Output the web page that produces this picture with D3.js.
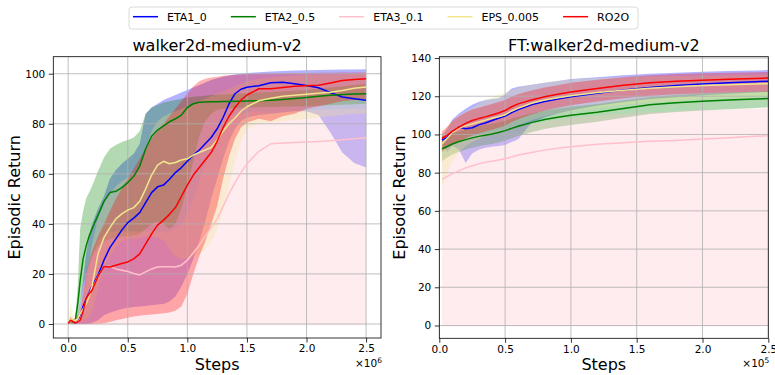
<!DOCTYPE html>
<html><head><meta charset="utf-8">
<script src="https://cdn.jsdelivr.net/npm/d3@7"></script>
<style>body{margin:0;background:#fff} text{font-family:"DejaVu Sans",sans-serif}</style>
</head><body><svg id="c" width="775" height="375"></svg>
<script>
// ---------- legend / series ----------
const seriesNames = ["ETA1_0", "ETA2_0.5", "ETA3_0.1", "EPS_0.005", "RO2O"];
const seriesColors = ["#0000ff", "#008000", "#ffc0cb", "#f0e68c", "#ff0000"];

// ---------- left panel: walker2d-medium-v2 (steps x1e6) ----------
const stepsL = [0, 0.02, 0.04, 0.06, 0.08, 0.1, 0.125, 0.15, 0.175, 0.2, 0.25, 0.3, 0.35, 0.4, 0.45, 0.5, 0.55, 0.6, 0.65, 0.7, 0.75, 0.8, 0.85, 0.9, 0.95, 1.0, 1.05, 1.1, 1.15, 1.2, 1.25, 1.3, 1.35, 1.4, 1.45, 1.5, 1.6, 1.7, 1.8, 1.9, 2.0, 2.1, 2.2, 2.3, 2.4, 2.5];

const L_eta1 = [0.5, 1.5, 0.8, 0.5, 1, 3, 7, 10, 12.5, 15, 19.5, 25.5, 30.5, 34, 37.5, 40.5, 42.3, 44.5, 48.5, 52.5, 54.8, 55.5, 57.8, 60.5, 62.5, 65, 67.5, 69.5, 72, 74.5, 78, 82.5, 88, 92, 93.8, 94.6, 95.2, 96.4, 96.6, 96, 95.3, 94.4, 92.5, 90.7, 90, 89.4];
const L_eta1_lo = [0, 0, 0, 0, 0, 0, 0, 0, 0.2, 0.5, 1.5, 3.5, 4.5, 5.3, 6, 6.5, 6.8, 7, 7.2, 7.5, 7.8, 8, 9, 11, 15, 20, 26, 33, 41, 50, 58, 66, 73, 78, 81, 82.5, 83.5, 84, 84.5, 85, 85, 83.5, 76.5, 68.5, 64.3, 62.5];
const L_eta1_hi = [0.5, 2, 2, 2, 4, 8, 18, 28, 35, 40, 46, 51, 58, 61.5, 64, 66, 68, 72, 84, 86.5, 88, 89.5, 90.5, 91.5, 92.5, 93.5, 94.5, 95.5, 96.5, 97.5, 98.2, 98.8, 99.3, 99.7, 100, 100.3, 100.6, 100.9, 101.1, 101.3, 101.4, 101.5, 101.6, 101.7, 101.7, 101.8];

const L_eta2 = [0.5, 1, 0.8, 1.5, 8, 17, 26, 31, 35, 38, 43.5, 49, 52.5, 53, 54.5, 56.5, 59, 63, 70, 75, 77.5, 79.2, 80.8, 82, 83.5, 86.5, 88, 88.6, 88.7, 88.8, 88.8, 88.9, 88.9, 89, 89, 89.1, 89.2, 89.4, 89.7, 90.1, 90.5, 91, 91.4, 91.7, 91.9, 92];
const L_eta2_lo = [0, 0, 0, 0.5, 2, 8, 15, 20, 24, 27, 31, 33, 34, 34.5, 35, 35, 35.5, 36, 38, 40, 41, 40, 38, 40, 46, 55, 65, 75, 81, 84, 85.5, 86, 86.2, 86.3, 86.4, 86.5, 86.6, 86.7, 86.8, 86.9, 87, 87.2, 87.4, 87.6, 87.8, 88];
const L_eta2_hi = [0.5, 1, 1, 3, 15, 38, 45, 50, 52.5, 55, 61, 66.5, 70, 71.5, 72.7, 73.5, 74.5, 77, 84, 86.5, 87.5, 88.5, 89, 89.5, 90, 90.5, 90.8, 91, 91.2, 91.5, 91.6, 91.7, 91.8, 92, 92.1, 92.2, 92.5, 92.7, 93, 93.2, 93.5, 94, 94.5, 95, 95.5, 96];

const L_eta3 = [0.3, 1, 1, 0.8, 1, 2, 5, 9, 12, 14, 19, 23, 23, 22, 21.5, 21, 20.2, 19.6, 20.8, 22, 22.8, 22.9, 22.9, 22.8, 23.5, 25.5, 28.5, 31.5, 35, 38.5, 42, 47, 52, 56.5, 60.5, 64, 69, 72, 72.3, 72.5, 72.7, 72.9, 73.2, 73.6, 74, 74.4];
const L_eta3_lo = [-0.5, -0.5, -0.5, -0.5, -0.5, -0.5, -0.5, -0.5, -0.5, -0.5, -0.5, -0.5, -0.5, -0.5, -0.5, -0.5, -0.5, -0.5, -0.5, -0.5, -0.5, -0.5, -0.5, -0.5, -0.5, -0.5, -0.5, -0.5, -0.5, -0.5, -0.5, -0.5, -0.5, -0.5, -0.5, -0.5, -0.5, -0.5, -0.5, -0.5, -0.5, -0.5, -0.5, -0.5, -0.5, -0.5];
const L_eta3_hi = [0.5, 2, 2, 2, 3, 5, 10, 16, 22, 27, 33, 36, 37, 37, 37, 37, 37, 37, 37, 37, 37, 37, 37, 38, 40, 44, 50, 57, 64, 70, 75, 79, 82, 83.5, 84, 84.5, 85, 84, 84.5, 85, 85.5, 85.5, 85.7, 85.8, 86, 86];

const L_eps = [0.5, 2, 1.5, 1.5, 2, 4, 6, 8, 11, 15, 28, 34.5, 38.5, 42, 44, 45.5, 46.5, 49, 54, 59.5, 63.5, 65, 64, 64.5, 65.5, 66, 67.5, 68.5, 69.5, 70.5, 73.5, 77, 80, 82.3, 85, 86.8, 89.2, 90.2, 91, 91.4, 91.8, 92.2, 92.6, 93.3, 94.2, 94.7];
const L_eps_lo = [0, 0, 0, 0, 0.5, 1, 1.5, 2, 3, 5, 14, 22, 27, 31, 33, 34, 34, 34.5, 35, 35, 34.5, 33.5, 30, 27, 26, 26, 27, 28, 30, 33, 38, 45, 55, 65, 73, 78, 80, 80.5, 81, 81.5, 82, 82.5, 83, 83.5, 84, 84];
const L_eps_hi = [0.5, 9, 4, 3, 4, 7, 12, 18, 25, 32, 42, 48, 52, 55, 57, 58.5, 60, 63, 70, 77, 81, 83, 84, 85, 86, 87, 88, 89, 90, 91, 92, 93, 94, 95, 96, 97, 98, 98.5, 99, 99.2, 99.5, 99.6, 99.7, 99.8, 99.9, 100];

const L_ro2o = [0.3, 1.5, 1, 0.5, 0.8, 1.5, 5, 10, 12, 13.5, 19, 23, 22.8, 23.5, 24.2, 24.8, 26, 28, 32, 36, 39.5, 41.5, 43.8, 46.5, 51, 55.5, 59.5, 62.5, 65.5, 68.5, 73, 78.5, 83, 86.5, 89.5, 91.5, 94, 94, 94.5, 95, 95.2, 95.4, 96.3, 97.3, 97.7, 98];
const L_ro2o_lo = [0, 0, 0, 0, 0, 0, 0, 0, 0, 0, 0.1, 0.3, 0.8, 1.5, 2, 2.5, 3, 3.3, 3.6, 3.8, 4, 4.3, 4.6, 5.3, 7, 12, 20, 27, 33, 40, 47, 58, 67, 74, 78.5, 80.5, 82, 81, 83, 84, 86, 87, 88, 89, 89.5, 90];
const L_ro2o_hi = [0.5, 3, 2, 2, 3, 5, 12, 20, 25, 29, 35, 40, 45, 50, 54, 58, 62, 66, 70, 74, 77, 80, 83, 86, 89, 92, 95, 97, 98, 98.5, 98.8, 99.2, 99.4, 99.6, 99.7, 99.8, 100, 100.1, 100.2, 100.3, 100.3, 100.4, 100.4, 100.5, 100.5, 100.5];

const xTicksL = [0, 0.5, 1.0, 1.5, 2.0, 2.5];
const yTicksL = [0, 20, 40, 60, 80, 100];

// ---------- right panel: FT:walker2d-medium-v2 (steps x1e5) ----------
const stepsR = [0.02, 0.06, 0.1, 0.15, 0.2, 0.25, 0.3, 0.35, 0.4, 0.45, 0.5, 0.55, 0.6, 0.7, 0.8, 0.9, 1.0, 1.2, 1.4, 1.6, 1.8, 2.0, 2.2, 2.4, 2.5];

const R_eta1 = [97, 98.5, 101, 103.9, 103, 103.5, 105, 106, 107.3, 108.5, 109.6, 111.5, 113, 115.5, 117.3, 118.6, 119.7, 121.6, 123.3, 124.6, 125.6, 126.4, 127, 127.6, 127.9];
const R_eta1_lo = [95, 91, 94, 92, 85, 90, 92, 93, 93.5, 94, 94.5, 96, 97.5, 106, 109, 111, 112.5, 115, 117, 118.5, 119.5, 120.5, 121.3, 122, 122.3];
const R_eta1_hi = [99, 103, 108, 111, 113.5, 115.5, 117, 118, 118.5, 119, 121, 124, 125, 126, 127, 128, 129, 130, 131, 131.8, 132.3, 132.8, 133.2, 133.5, 133.7];

const R_eta2 = [92.5, 93.7, 95, 96.3, 97.3, 98.2, 99, 99.6, 100.2, 101, 102, 103.2, 104.3, 106.2, 107.8, 109, 110, 111.6, 113.6, 115.5, 116.6, 117.4, 118, 118.5, 118.8];
const R_eta2_lo = [86, 88, 89.5, 91, 92, 93, 93.8, 94.5, 95, 95.8, 96.8, 98, 99.2, 101.2, 102.8, 104, 105, 106.6, 108.8, 110.7, 111.8, 112.6, 113.2, 113.8, 114.2];
const R_eta2_hi = [99, 99.5, 100.5, 101.5, 102.5, 103.5, 104.3, 105, 105.6, 106.3, 107.2, 108.3, 109.3, 111, 112.5, 113.6, 114.5, 116, 117.8, 119.5, 120.6, 121.4, 122, 122.5, 122.8];

const R_eta3 = [76.4, 78, 79.5, 81, 82.5, 83.6, 84.6, 85.4, 86, 86.6, 87.3, 88.2, 89.2, 90.6, 91.8, 92.8, 93.6, 94.9, 95.7, 96.4, 96.9, 97.6, 98.3, 99, 99.3];
const R_eta3_lo = [-0.5, -0.5, -0.5, -0.5, -0.5, -0.5, -0.5, -0.5, -0.5, -0.5, -0.5, -0.5, -0.5, -0.5, -0.5, -0.5, -0.5, -0.5, -0.5, -0.5, -0.5, -0.5, -0.5, -0.5, -0.5];
const R_eta3_hi = [90, 93, 95, 97, 98, 99, 99.8, 100.5, 101, 101.5, 102.2, 103, 104, 105.5, 106.8, 107.8, 108.6, 109.8, 110.8, 111.6, 112.2, 112.8, 113.2, 113.6, 113.8];

const R_eps = [95, 98, 101, 103.3, 104.5, 105.5, 106.5, 107.5, 108.5, 109.3, 110.3, 112.3, 113.8, 116.3, 118, 119.2, 120.2, 121.9, 123.2, 124.2, 125, 125.6, 126, 126.4, 126.6];
const R_eps_lo = [72, 80, 86, 91, 94, 96, 97.5, 99, 100, 101, 102, 103.5, 105, 107.5, 109.5, 111, 112, 114, 115.5, 116.7, 117.7, 118.5, 119, 119.5, 119.8];
const R_eps_hi = [101, 104, 107, 110, 112, 114, 116, 118, 119.5, 120.8, 122, 123.3, 124.5, 126, 127.2, 128.2, 128.8, 129.6, 130, 130.3, 130.6, 130.8, 131, 131.2, 131.3];

const R_ro2o = [98, 99.5, 101.7, 103.8, 105.8, 107.3, 108.3, 109.2, 110.2, 111.2, 112.5, 114.5, 116, 118, 119.7, 121, 122.2, 124.1, 125.8, 127.1, 127.8, 128.4, 128.9, 129.3, 129.5];
const R_ro2o_lo = [91, 93, 95, 96.5, 98, 99.5, 100.5, 101.5, 102.5, 103.5, 104.5, 106.5, 108, 110.5, 112.5, 114, 115.3, 117.3, 119, 120.2, 121, 121.6, 122, 122.3, 122.5];
const R_ro2o_hi = [101.5, 104, 107, 109.5, 111.5, 113, 114, 115, 116, 117, 118, 119.8, 121.2, 123, 124.6, 125.8, 127, 128.6, 130, 131, 131.6, 132, 132.3, 132.6, 132.7];

const xTicksR = [0, 0.5, 1.0, 1.5, 2.0, 2.5];
const yTicksR = [0, 20, 40, 60, 80, 100, 120, 140];

// ---------- drawing ----------
const svg = d3.select("#c");

function panel(cfg) {
  const x = d3.scaleLinear().domain(cfg.xDomain).range([cfg.left, cfg.right]);
  const y = d3.scaleLinear().domain(cfg.yDomain).range([cfg.bottom, cfg.top]);
  const g = svg.append("g");
  const clipId = "clip" + cfg.id;
  svg.append("clipPath").attr("id", clipId).append("rect")
    .attr("x", cfg.left).attr("y", cfg.top)
    .attr("width", cfg.right - cfg.left).attr("height", cfg.bottom - cfg.top);
  const plot = g.append("g").attr("clip-path", `url(#${clipId})`);

  // fills (all under grid and lines)
  cfg.series.forEach((s, i) => {
    const area = d3.area().x((d, k) => x(cfg.steps[k])).y0((d, k) => y(s.lo[k])).y1((d, k) => y(s.hi[k]));
    plot.append("path").datum(s.mean).attr("d", area)
      .attr("fill", seriesColors[i]).attr("fill-opacity", 0.3).attr("stroke", "none");
  });
  // grid
  const gridG = plot.append("g");
  cfg.xTicks.forEach(t => gridG.append("line").attr("x1", x(t)).attr("x2", x(t))
    .attr("y1", cfg.top).attr("y2", cfg.bottom).attr("stroke", "#b0b0b0").attr("stroke-width", 0.8));
  cfg.yTicks.forEach(t => gridG.append("line").attr("y1", y(t)).attr("y2", y(t))
    .attr("x1", cfg.left).attr("x2", cfg.right).attr("stroke", "#b0b0b0").attr("stroke-width", 0.8));
  // lines
  cfg.series.forEach((s, i) => {
    const line = d3.line().x((d, k) => x(cfg.steps[k])).y(d => y(d));
    plot.append("path").datum(s.mean).attr("d", line)
      .attr("fill", "none").attr("stroke", seriesColors[i]).attr("stroke-width", 1.5)
      .attr("stroke-linejoin", "round");
  });
  // spines
  g.append("rect").attr("x", cfg.left).attr("y", cfg.top)
    .attr("width", cfg.right - cfg.left).attr("height", cfg.bottom - cfg.top)
    .attr("fill", "none").attr("stroke", "#000").attr("stroke-width", 0.8);

  // axes
  const xa = g.append("g").attr("transform", `translate(0,${cfg.bottom})`)
    .call(d3.axisBottom(x).tickValues(cfg.xTicks).tickFormat(d3.format(".1f")).tickSize(4.5).tickPadding(2.5));
  const ya = g.append("g").attr("transform", `translate(${cfg.left},0)`)
    .call(d3.axisLeft(y).tickValues(cfg.yTicks).tickFormat(d3.format("d")).tickSize(4.5).tickPadding(3.5));
  [xa, ya].forEach(a => {
    a.select(".domain").remove();
    a.selectAll("text").attr("font-size", "10.5px").attr("font-family", "DejaVu Sans").attr("fill", "#000");
    a.selectAll("line").attr("stroke", "#000").attr("stroke-width", 0.8);
  });

  // title
  g.append("text").attr("x", (cfg.left + cfg.right) / 2).attr("y", 51)
    .attr("text-anchor", "middle").attr("font-size", "16px").text(cfg.title);
  // x label
  g.append("text").attr("x", (cfg.left + cfg.right) / 2).attr("y", 370)
    .attr("text-anchor", "middle").attr("font-size", "16px").text("Steps");
  // y label
  g.append("text").attr("transform", `translate(${cfg.yLabelX},${(cfg.top + cfg.bottom) / 2}) rotate(-90)`)
    .attr("text-anchor", "middle").attr("font-size", "16px").text("Episodic Return");
  // offset text
  const ot = g.append("text").attr("x", cfg.right + 1).attr("y", 367)
    .attr("text-anchor", "end").attr("font-size", "10.5px");
  ot.append("tspan").text("\u00d710");
  ot.append("tspan").attr("dy", -4.5).attr("font-size", "7.5px").text(cfg.exp);
}

panel({
  id: "L", left: 53.3, right: 381, top: 56.7, bottom: 338,
  xDomain: [-0.125, 2.625], yDomain: [-5.6, 106.8],
  xTicks: xTicksL, yTicks: yTicksL, steps: stepsL,
  title: "walker2d-medium-v2", yLabelX: 20, exp: "6",
  series: [
    {mean: L_eta1, lo: L_eta1_lo, hi: L_eta1_hi},
    {mean: L_eta2, lo: L_eta2_lo, hi: L_eta2_hi},
    {mean: L_eta3, lo: L_eta3_lo, hi: L_eta3_hi},
    {mean: L_eps, lo: L_eps_lo, hi: L_eps_hi},
    {mean: L_ro2o, lo: L_ro2o_lo, hi: L_ro2o_hi}
  ]
});

panel({
  id: "R", left: 439.3, right: 768.3, top: 56.7, bottom: 338.3,
  xDomain: [0, 2.5], yDomain: [-6.7, 140.7],
  xTicks: xTicksR, yTicks: yTicksR, steps: stepsR,
  title: "FT:walker2d-medium-v2", yLabelX: 405, exp: "5",
  series: [
    {mean: R_eta1, lo: R_eta1_lo, hi: R_eta1_hi},
    {mean: R_eta2, lo: R_eta2_lo, hi: R_eta2_hi},
    {mean: R_eta3, lo: R_eta3_lo, hi: R_eta3_hi},
    {mean: R_eps, lo: R_eps_lo, hi: R_eps_hi},
    {mean: R_ro2o, lo: R_ro2o_lo, hi: R_ro2o_hi}
  ]
});

// legend
const leg = svg.append("g");
const box = leg.append("rect").attr("y", 7).attr("height", 22).attr("rx", 3)
  .attr("fill", "#fff").attr("stroke", "#d0d0d0").attr("stroke-width", 0.8);
let cx = 133;
seriesNames.forEach((name, i) => {
  leg.append("line").attr("x1", cx).attr("x2", cx + 25).attr("y1", 16.7).attr("y2", 16.7)
    .attr("stroke", seriesColors[i]).attr("stroke-width", 1.5);
  const t = leg.append("text").attr("x", cx + 34).attr("y", 21).attr("font-size", "11px").text(name);
  const w = t.node().getComputedTextLength();
  cx = cx + 34 + w + (i < seriesNames.length - 1 ? 24 : 0);
});
box.attr("x", 129).attr("width", cx + 9 - 129);
</script></body></html>
